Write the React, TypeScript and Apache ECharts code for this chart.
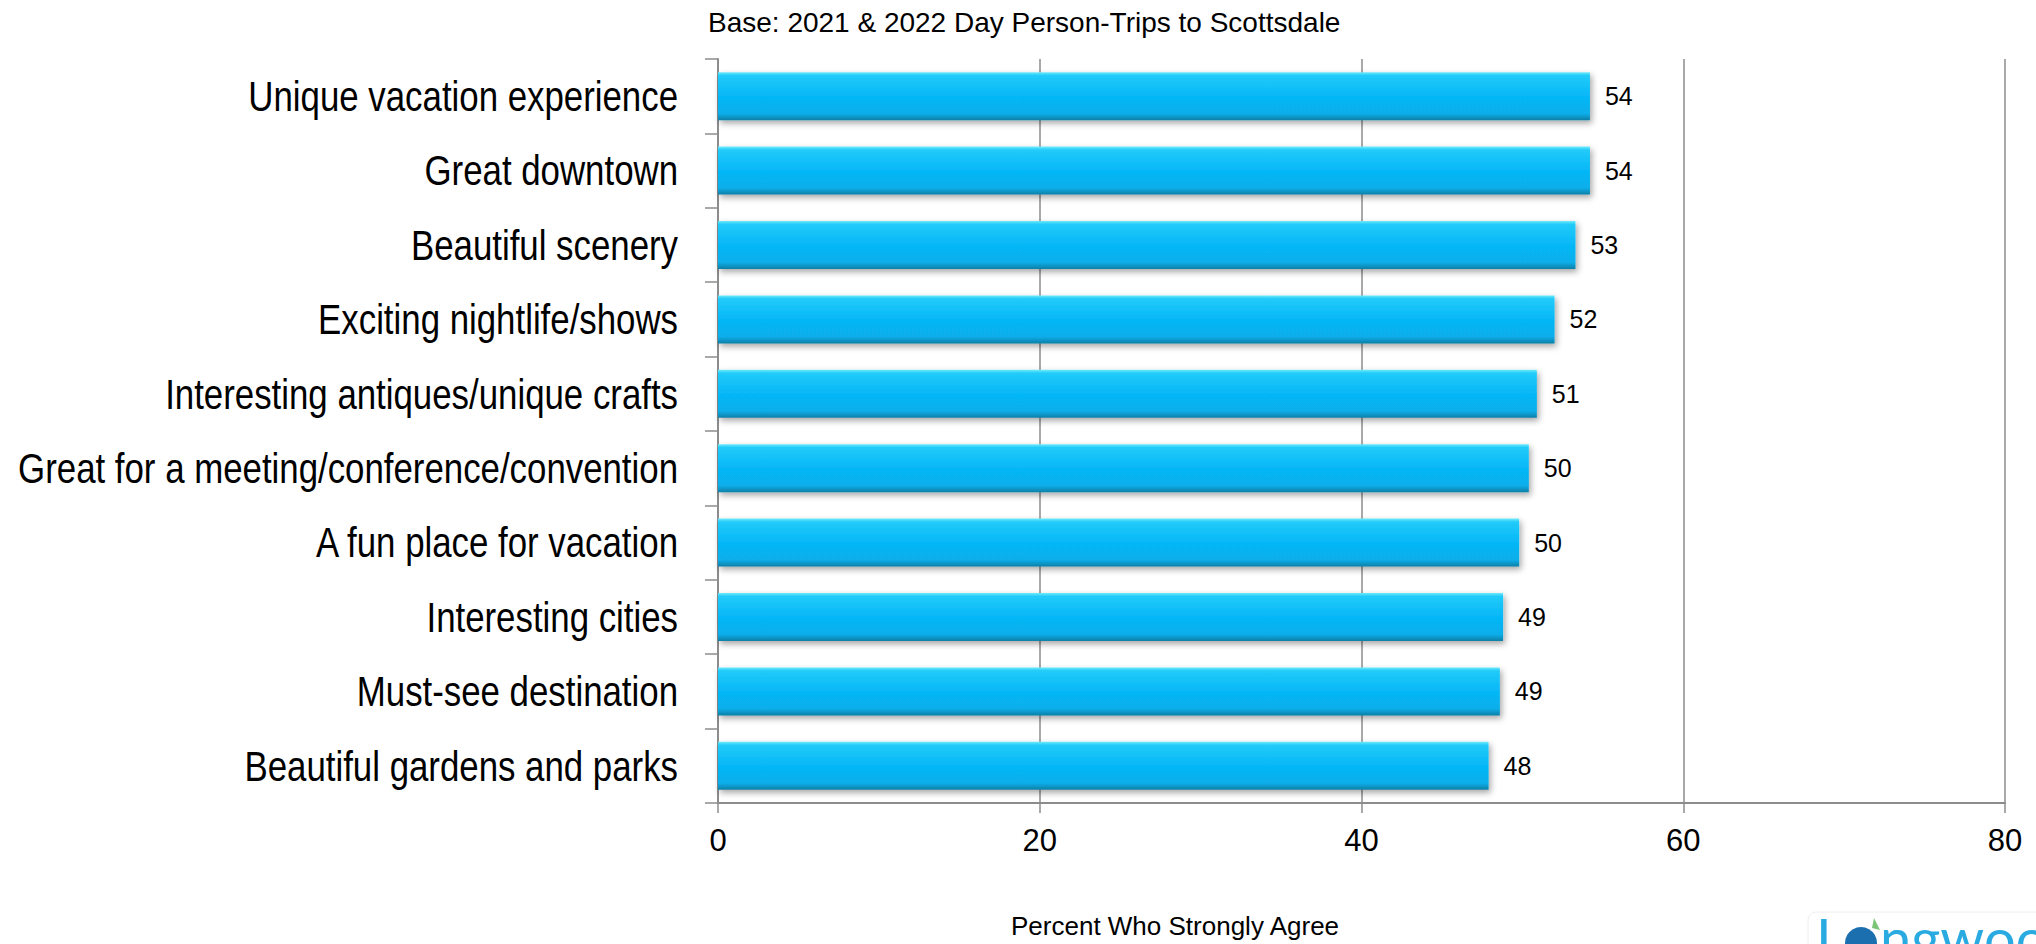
import React, { useEffect, useRef } from "react";
import * as echarts from "echarts";

const categories: string[] = [
  "Unique vacation experience",
  "Great downtown",
  "Beautiful scenery",
  "Exciting nightlife/shows",
  "Interesting antiques/unique crafts",
  "Great for a meeting/conference/convention",
  "A fun place for vacation",
  "Interesting cities",
  "Must-see destination",
  "Beautiful gardens and parks",
];
const values: number[] = [54.2, 54.2, 53.3, 52.0, 50.9, 50.4, 49.8, 48.8, 48.6, 47.9];
const xTicks = { min: 0, max: 80, interval: 20 };
const subtitle = "Base: 2021 & 2022 Day Person-Trips to Scottsdale";
const axisTitle = "Percent Who Strongly Agree";

export default function App() {
  const ref = useRef<HTMLDivElement>(null);
  useEffect(() => {
    document.body.style.margin = "0";
    if (!ref.current) return;
    const chart = echarts.init(ref.current, undefined, { renderer: "svg" });
    const gray = "#8c8c8c";
    const sans = "'Liberation Sans', Arial, sans-serif";
    chart.setOption({
      animation: false,
      backgroundColor: "#ffffff",
      title: [
        {
          text: subtitle,
          left: 703,
          top: 3,
          textStyle: { fontFamily: sans, fontSize: 28, fontWeight: "normal", color: "#000" },
        },
        {
          text: axisTitle,
          left: 1006,
          top: 908,
          textStyle: { fontFamily: sans, fontSize: 26, fontWeight: "normal", color: "#000" },
        },
      ],
      grid: { left: 718, right: 31, top: 59, bottom: 141, containLabel: false, outerBoundsMode: "none" },
      xAxis: {
        type: "value",
        min: xTicks.min,
        max: xTicks.max,
        interval: xTicks.interval,
        axisLine: { show: true, lineStyle: { color: gray, width: 2 } },
        axisTick: { show: true, length: 10, lineStyle: { color: gray, width: 1.5 } },
        splitLine: { show: true, lineStyle: { color: gray, width: 1.5 } },
        axisLabel: { fontFamily: sans, fontSize: 31, color: "#000", margin: 22 },
      },
      yAxis: {
        type: "category",
        data: categories,
        inverse: true,
        axisLine: { show: true, lineStyle: { color: gray, width: 2 } },
        axisTick: { show: true, length: 13, lineStyle: { color: gray, width: 1.5 } },
        axisLabel: { show: false },
      },
      series: [
        {
          type: "bar",
          data: values,
          barWidth: 48,
          itemStyle: {
            color: new echarts.graphic.LinearGradient(0, 0, 0, 1, [
              { offset: 0, color: "#6feafc" },
              { offset: 0.07, color: "#22cbf9" },
              { offset: 0.5, color: "#06b7f7" },
              { offset: 0.86, color: "#07aeea" },
              { offset: 1, color: "#0a7fa6" },
            ]),
            shadowColor: "rgba(0,0,0,0.35)",
            shadowBlur: 6,
            shadowOffsetX: 2,
            shadowOffsetY: 3,
          },
          label: {
            show: true,
            position: "right",
            distance: 15,
            fontFamily: sans,
            fontSize: 25,
            color: "#000",
            formatter: (p: any) => String(Math.round(p.value)),
          },
        },
        {
          type: "custom",
          data: categories.map((_, i) => [0, i]),
          encode: { x: 0, y: 1 },
          clip: false,
          silent: true,
          z: 10,
          renderItem: (params: any, api: any) => {
            const p = api.coord([0, api.value(1)]);
            return {
              type: "text",
              x: p[0] - 40,
              y: p[1],
              scaleX: 0.81,
              style: {
                text: categories[params.dataIndex],
                fontFamily: sans,
                fontSize: 43,
                fill: "#000",
                align: "right",
                verticalAlign: "middle",
              },
            };
          },
        },
      ],
      graphic: [
        {
          type: "rect",
          shape: { x: 1808, y: 912, width: 260, height: 80, r: 8 },
          style: { fill: "#ffffff", stroke: "#eeeeee", lineWidth: 1 },
          silent: true,
        },
        {
          type: "text",
          x: 1816,
          y: 937,
          style: { text: "L", fontFamily: "Lato, 'Open Sans', sans-serif", fontSize: 56, fill: "#29ABE2", verticalAlign: "middle" },
          silent: true,
        },
        {
          type: "circle",
          shape: { cx: 1861, cy: 943, r: 16 },
          style: { fill: "#1b6fae" },
          silent: true,
        },
        {
          type: "polygon",
          shape: { points: [[1874, 918], [1880, 930], [1872, 928]] },
          style: { fill: "#7cc576" },
          silent: true,
        },
        {
          type: "text",
          x: 1880,
          y: 937,
          style: { text: "ngwoo", fontFamily: "Lato, 'Open Sans', sans-serif", fontSize: 56, fill: "#29ABE2", verticalAlign: "middle" },
          silent: true,
        },
      ],
    });
    return () => chart.dispose();
  }, []);
  return <div ref={ref} style={{ width: 2036, height: 944 }} />;
}
